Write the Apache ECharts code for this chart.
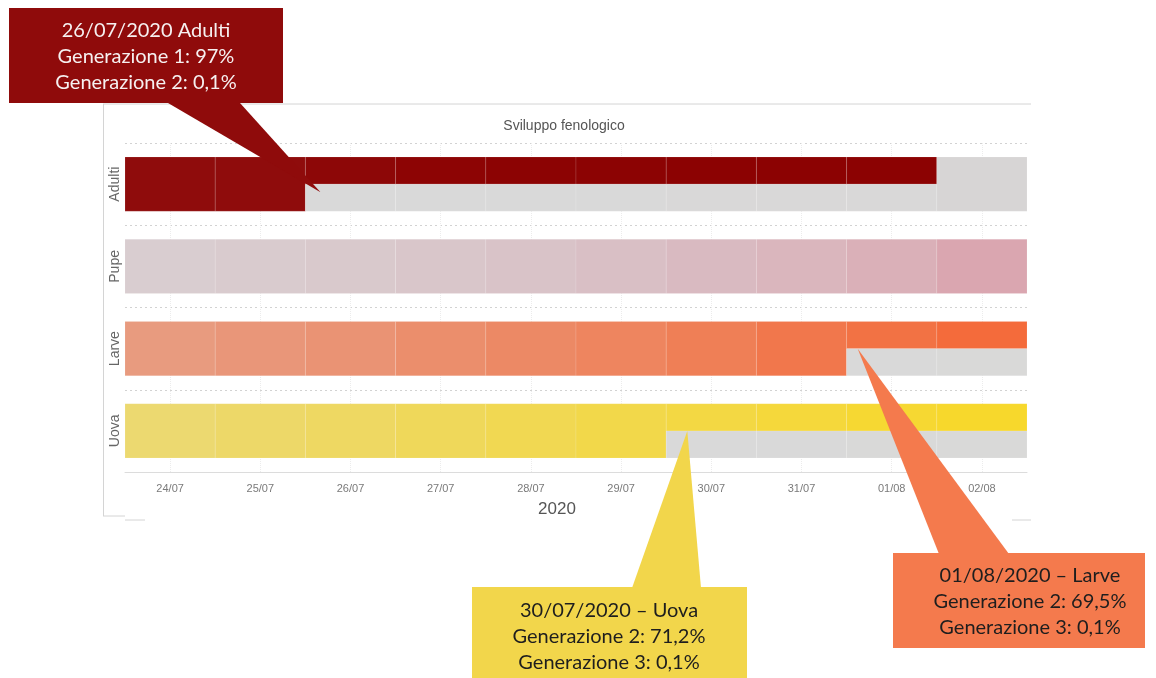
<!DOCTYPE html>
<html>
<head>
<meta charset="utf-8">
<script src="https://cdn.jsdelivr.net/npm/echarts@6/dist/echarts.min.js"></script>
<style>
  html, body { margin: 0; padding: 0; background: #fff; }
  #chart { width: 1156px; height: 678px; }
</style>
</head>
<body>
<div id="chart"></div>
<script>
// Days on the x axis and life stages on the y axis (listed bottom to top)
const days = ['24/07', '25/07', '26/07', '27/07', '28/07', '29/07', '30/07', '31/07', '01/08', '02/08'];
const stages = ['Uova', 'Larve', 'Pupe', 'Adulti'];
const year = '2020';

// Share (%) of the older generation (upper half) and the newer one (lower half); null = absent
const adultiOld = [94.5, 94.5, 97, 98, 98.5, 98.5, 99, 99, 99, null];
const adultiNew = [null, null, 0.1, 0.1, 0.2, 0.2, 0.3, 0.4, 0.6, 2];
const pupeOld   = [6, 7, 8, 9.5, 11, 13, 15.5, 18, 21, 26];
const pupeNew   = [null, null, null, null, null, null, null, null, null, null];
const larveOld  = [42, 45, 47, 51, 54, 57, 61, 66, 69.5, 74];
const larveNew  = [null, null, null, null, null, null, null, null, 0.1, 0.3];
const uovaOld   = [50, 53.5, 56.5, 60, 64, 68, 71.2, 75, 79, 82];
const uovaNew   = [null, null, null, null, null, null, 0.1, 0.2, 0.3, 0.5];

// Generation numbers shown in the notes
const adultiGens = [1, 2];
const larveGens  = [2, 3];
const uovaGens   = [2, 3];

const seriesByStage = {
  Adulti: { old: adultiOld, young: adultiNew, color: '#8b0000' },
  Pupe:   { old: pupeOld,   young: pupeNew,   color: '#dc143c' },
  Larve:  { old: larveOld,  young: larveNew,  color: '#fd4503' },
  Uova:   { old: uovaOld,   young: uovaNew,   color: '#fed806' }
};
const emptyColor = '#d9d9d9';

function shade(stage, pct) {
  return echarts.color.lerp(Math.max(0, Math.min(1, pct / 100)), [emptyColor, seriesByStage[stage].color]);
}
function pctText(v) {
  return String(v).replace('.', ',') + '%';
}

// One cell per (day, stage): [dayIndex, stageIndex, oldShare, newShare]
const cells = [];
stages.forEach((stage, si) => {
  const s = seriesByStage[stage];
  days.forEach((d, di) => {
    cells.push([di, si, s.old[di], s.young[di]]);
  });
});

const chart = echarts.init(document.getElementById('chart'), null, { renderer: 'canvas' });

function renderCell(params, api) {
  const di = api.value(0), si = api.value(1);
  const stage = stages[si];
  const oldV = cells[params.dataIndex][2];
  const newV = cells[params.dataIndex][3];
  const c = api.coord([di, si]);
  const sz = api.size([1, 1]);
  const w = sz[0], h = sz[1] * 0.66;
  const x = c[0] - w / 2, y = c[1] - h / 2;
  const edge = { stroke: 'rgba(255,255,255,0.12)', lineWidth: 1 };
  const children = [];
  if (oldV != null && newV != null) {
    children.push({ type: 'rect', shape: { x, y, width: w, height: h / 2 }, style: Object.assign({ fill: shade(stage, oldV) }, edge) });
    children.push({ type: 'rect', shape: { x, y: y + h / 2, width: w, height: h / 2 }, style: Object.assign({ fill: shade(stage, newV) }, edge) });
  } else {
    const v = oldV != null ? oldV : newV;
    children.push({ type: 'rect', shape: { x, y, width: w, height: h }, style: Object.assign({ fill: shade(stage, v) }, edge) });
  }
  return { type: 'group', children };
}

chart.setOption({
  animation: false,
  backgroundColor: '#ffffff',
  grid: { left: 125, right: 129, top: 143, bottom: 206, containLabel: false },
  xAxis: {
    type: 'category',
    data: days,
    boundaryGap: true,
    axisLine: { show: true, lineStyle: { color: '#dcdcdc', width: 1 } },
    axisTick: { show: false },
    axisLabel: { color: '#7a7a7a', fontSize: 11, margin: 11, fontFamily: 'Liberation Sans' },
    splitLine: { show: true, alignWithLabel: true, lineStyle: { color: '#ececec', type: 'dotted' } }
  },
  yAxis: {
    type: 'category',
    data: stages,
    axisLine: { show: false },
    axisTick: { show: false },
    axisLabel: { color: '#666', fontSize: 14, rotate: 90, margin: 3, fontFamily: 'Liberation Sans' },
    splitLine: { show: true, lineStyle: { color: '#d2d2d2', type: [2, 3] } }
  },
  series: [{
    type: 'custom',
    renderItem: renderCell,
    data: cells.map(c => [c[0], c[1]]),
    encode: { x: 0, y: 1 },
    z: 5
  }]
});

// Frame, heading and notes layered on top of the cells
const frame = '#d4d4d4';
const graphics = [
  { type: 'line', silent: true, z: 1, shape: { x1: 103, y1: 104, x2: 1031, y2: 104 }, style: { stroke: frame, lineWidth: 1 } },
  { type: 'line', silent: true, z: 1, shape: { x1: 103.5, y1: 104, x2: 103.5, y2: 516 }, style: { stroke: frame, lineWidth: 1 } },
  { type: 'line', silent: true, z: 1, shape: { x1: 103, y1: 516, x2: 125, y2: 516 }, style: { stroke: frame, lineWidth: 1 } },
  { type: 'line', silent: true, z: 1, shape: { x1: 125, y1: 520, x2: 145, y2: 520 }, style: { stroke: frame, lineWidth: 1 } },
  { type: 'line', silent: true, z: 1, shape: { x1: 1012, y1: 520, x2: 1031, y2: 520 }, style: { stroke: frame, lineWidth: 1 } },
  { type: 'text', silent: true, z: 10, style: { text: 'Sviluppo fenologico', x: 564, y: 126, fill: '#555', font: '14px "Liberation Sans"', align: 'center', verticalAlign: 'middle', textAlign: 'center', textVerticalAlign: 'middle' } },
  { type: 'text', silent: true, z: 10, style: { text: year, x: 557, y: 509, fill: '#555', font: '17px "Liberation Sans"', align: 'center', verticalAlign: 'middle', textAlign: 'center', textVerticalAlign: 'middle' } }
];

const notes = [
  {
    stage: 'Adulti', day: '26/07', tipOffset: [-30, 8],
    box: { x: 9, y: 8, width: 274, height: 95 }, base: [168, 240, 103],
    textAt: [146, 57], fill: '#8f0b0b', textColor: '#f6f0f0',
    lines: d => [d + '/' + year + ' Adulti',
                 'Generazione ' + adultiGens[0] + ': ' + pctText(adultiOld[days.indexOf(d)]),
                 'Generazione ' + adultiGens[1] + ': ' + pctText(adultiNew[days.indexOf(d)])]
  },
  {
    stage: 'Uova', day: '30/07', tipOffset: [-24, 0],
    box: { x: 472, y: 587, width: 275, height: 100 }, base: [632, 701, 588],
    textAt: [609, 637], fill: '#f2d64b', textColor: '#1e1e1e',
    lines: d => [d + '/' + year + ' \u2013 Uova',
                 'Generazione ' + uovaGens[0] + ': ' + pctText(uovaOld[days.indexOf(d)]),
                 'Generazione ' + uovaGens[1] + ': ' + pctText(uovaNew[days.indexOf(d)])]
  },
  {
    stage: 'Larve', day: '01/08', tipOffset: [-34, 0],
    box: { x: 893, y: 553, width: 252, height: 95 }, base: [939, 1009, 554],
    textAt: [1030, 602], fill: '#f47a4d', textColor: '#1e1e1e',
    lines: d => [d + '/' + year + ' \u2013 Larve',
                 'Generazione ' + larveGens[0] + ': ' + pctText(larveOld[days.indexOf(d)]),
                 'Generazione ' + larveGens[1] + ': ' + pctText(larveNew[days.indexOf(d)])]
  }
];

notes.forEach(n => {
  const p = chart.convertToPixel({ gridIndex: 0 }, [n.day, n.stage]);
  const tip = [p[0] + n.tipOffset[0], p[1] + n.tipOffset[1]];
  graphics.push({ type: 'polygon', silent: true, z: 20, shape: { points: [[n.base[0], n.base[2]], [n.base[1], n.base[2]], tip] }, style: { fill: n.fill } });
  graphics.push({ type: 'rect', silent: true, z: 21, shape: n.box, style: { fill: n.fill } });
  graphics.push({ type: 'text', silent: true, z: 22, style: {
    text: n.lines(n.day).join('\n'), x: n.textAt[0], y: n.textAt[1], fill: n.textColor,
    font: '20px Lato', lineHeight: 26,
    align: 'center', verticalAlign: 'middle', textAlign: 'center', textVerticalAlign: 'middle'
  } });
});

chart.setOption({ graphic: graphics });
</script>
</body>
</html>
